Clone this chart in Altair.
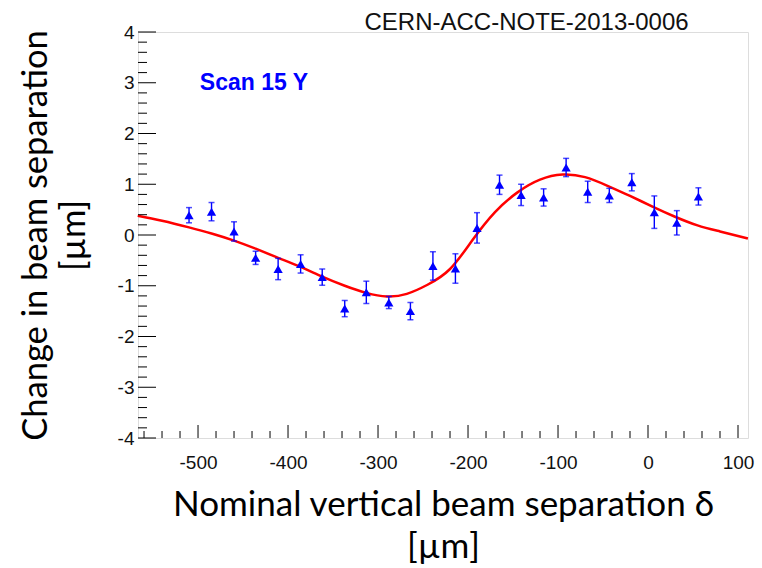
import altair as alt
import pandas as pd

# Measured points (Scan 15 Y)
sep = [-510, -485, -460, -436, -411, -386, -362, -337, -313, -288, -264, -239,
       -214, -190, -165, -141, -116, -91, -67, -43, -18, 7, 32, 56]
change = [0.39, 0.46, 0.07, -0.45, -0.67, -0.57, -0.83, -1.45, -1.13, -1.33, -1.50, -0.61,
          -0.66, 0.14, 0.99, 0.79, 0.74, 1.33, 0.85, 0.78, 1.04, 0.45, 0.24, 0.76]
err = [0.15, 0.18, 0.19, 0.13, 0.21, 0.18, 0.16, 0.16, 0.22, 0.12, 0.17, 0.28,
       0.29, 0.30, 0.19, 0.21, 0.17, 0.18, 0.21, 0.14, 0.17, 0.32, 0.24, 0.17]

# Fitted curve
fit_x = [-567, -540, -510, -485, -460, -436, -411, -386, -362, -337, -313, -290, -268,
         -245, -220, -195, -170, -145, -120, -95, -70, -45, -20, 5, 30, 55, 80, 111]
fit_y = [0.38, 0.28, 0.15, 0.03, -0.11, -0.27, -0.45, -0.63, -0.82, -1.0, -1.14, -1.21, -1.16,
         -0.98, -0.67, -0.10, 0.45, 0.84, 1.09, 1.19, 1.14, 0.97, 0.77, 0.56, 0.36, 0.19, 0.07, -0.07]

x_major = [-500, -400, -300, -200, -100, 0, 100]
x_minor = [v for v in range(-560, 101, 20) if v % 100 != 0]
y_major = [-4, -3, -2, -1, 0, 1, 2, 3, 4]
y_minor = [round(-4 + 0.2 * i, 1) for i in range(41) if i % 5 != 0]

X_DOMAIN = [-566.7, 111.1]
Y_DOMAIN = [-4, 4]
W, H = 610, 406

pts = pd.DataFrame({"x": sep, "y": change,
                    "lo": [c - e for c, e in zip(change, err)],
                    "hi": [c + e for c, e in zip(change, err)]})
fit = pd.DataFrame({"x": fit_x, "y": fit_y})

xs = alt.Scale(domain=X_DOMAIN, nice=False, zero=False)
ys = alt.Scale(domain=Y_DOMAIN, nice=False, zero=False)

TITLE_FONT = "Lato"
LABEL_FONT = "Liberation Sans"
LABEL_EXPR = "datum.value < 0 ? '-' + abs(datum.value) : '' + datum.value"

x_axis = alt.Axis(values=x_major, ticks=False, tickSize=0, grid=False, domain=False,
                  labelFont=LABEL_FONT, labelFontSize=19, labelColor="#111",
                  labelPadding=15, labelFlush=False, labelExpr=LABEL_EXPR,
                  title=["Nominal vertical beam separation δ", "[µm]"],
                  titleFont=TITLE_FONT, titleFontSize=35, titleFontWeight="normal",
                  titleColor="#000", titleLineHeight=42, titleY=49, titleBaseline="top")
y_axis = alt.Axis(values=y_major, ticks=False, tickSize=0, grid=False, domain=False,
                  labelFont=LABEL_FONT, labelFontSize=19, labelColor="#111",
                  labelPadding=4, labelFlush=False, labelExpr=LABEL_EXPR,
                  title=["Change in beam separation", "[µm]"],
                  titleFont=TITLE_FONT, titleFontSize=34.5, titleFontWeight="normal",
                  titleColor="#000", titleLineHeight=38, titleX=-119, titleBaseline="top")

curve = alt.Chart(fit).mark_line(color="#ff0000", strokeWidth=2.5, interpolate="natural").encode(
    x=alt.X("x:Q", scale=xs, axis=x_axis),
    y=alt.Y("y:Q", scale=ys, axis=y_axis),
)

bars = alt.Chart(pts).mark_rule(color="#0000ff", strokeWidth=1.4).encode(
    x=alt.X("x:Q", scale=xs), y=alt.Y("lo:Q", scale=ys), y2="hi:Q")
cap_lo = alt.Chart(pts).mark_tick(color="#0000ff", orient="horizontal", size=6, thickness=1.5).encode(
    x=alt.X("x:Q", scale=xs), y=alt.Y("lo:Q", scale=ys))
cap_hi = alt.Chart(pts).mark_tick(color="#0000ff", orient="horizontal", size=6, thickness=1.5).encode(
    x=alt.X("x:Q", scale=xs), y=alt.Y("hi:Q", scale=ys))
markers = alt.Chart(pts).mark_point(shape="triangle-up", filled=True, color="#0000ff",
                                    size=85, opacity=1).encode(
    x=alt.X("x:Q", scale=xs), y=alt.Y("y:Q", scale=ys))

xmaj = alt.Chart(pd.DataFrame({"v": x_major})).mark_rule(color="#000", strokeWidth=1).encode(
    x=alt.X("v:Q", scale=xs), y=alt.value(H), y2=alt.value(H - 13))
xmin = alt.Chart(pd.DataFrame({"v": x_minor})).mark_rule(color="#000", strokeWidth=1).encode(
    x=alt.X("v:Q", scale=xs), y=alt.value(H), y2=alt.value(H - 7))
ymaj = alt.Chart(pd.DataFrame({"v": y_major})).mark_rule(color="#000", strokeWidth=1).encode(
    y=alt.Y("v:Q", scale=ys), x=alt.value(0), x2=alt.value(18))
ymin = alt.Chart(pd.DataFrame({"v": y_minor})).mark_rule(color="#000", strokeWidth=1).encode(
    y=alt.Y("v:Q", scale=ys), x=alt.value(0), x2=alt.value(9))

label = alt.Chart(pd.DataFrame({"x": [-498], "y": [3.0], "t": ["Scan 15 Y"]})).mark_text(
    font=LABEL_FONT, fontSize=23, fontWeight="bold", color="#0000ff",
    align="left", baseline="middle").encode(
    x=alt.X("x:Q", scale=xs), y=alt.Y("y:Q", scale=ys), text="t:N")

note = alt.Chart(pd.DataFrame({"x": [-315], "y": [4.04], "t": ["CERN-ACC-NOTE-2013-0006"]})).mark_text(
    font=LABEL_FONT, fontSize=24, color="#111", align="left", baseline="alphabetic").encode(
    x=alt.X("x:Q", scale=xs), y=alt.Y("y:Q", scale=ys), text="t:N")

chart = alt.layer(curve, xmin, xmaj, ymin, ymaj, bars, cap_lo, cap_hi, markers, label, note).properties(
    width=W, height=H,
    autosize=alt.AutoSizeParams(type="none"),
    padding={"left": 138, "top": 32, "right": 14, "bottom": 130},
).configure_view(stroke="#000", strokeWidth=1).configure(background="white")

chart.save("out.html", embed_options={"renderer": "svg", "actions": False})
